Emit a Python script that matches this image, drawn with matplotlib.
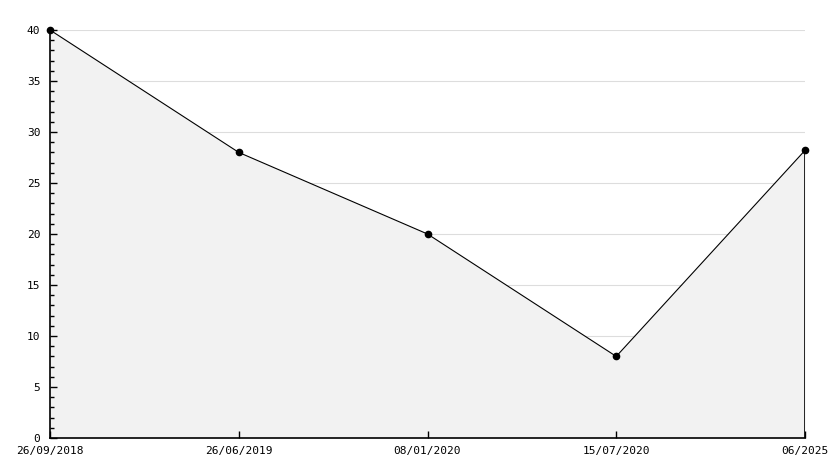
import matplotlib.pyplot as plt
from matplotlib.ticker import MultipleLocator

dates = ["26/09/2018", "26/06/2019", "08/01/2020", "15/07/2020", "06/2025"]
values = [40, 28, 20, 8, 28.2]

plt.rcParams['font.family'] = ['DejaVu Sans Mono']
plt.rcParams['font.size'] = 8

fig = plt.figure(figsize=(8.34, 4.68), dpi=100)
ax = fig.add_axes([50/834, 30/468, 755/834, 408/468])

x = list(range(len(dates)))
ax.set_xlim(0, len(dates) - 1)
ax.set_ylim(0, 40)
ax.yaxis.set_major_locator(MultipleLocator(5))
ax.yaxis.set_minor_locator(MultipleLocator(1))

# grid sits under the filled area
for yv in ax.get_yticks():
    if 0 < yv <= 40:
        ax.axhline(yv, color="#dddddd", linewidth=0.8, zorder=0)

ax.fill_between(x, values, 0, color="#f2f2f2", linewidth=0, zorder=1)
ax.vlines(x[-1], 0, values[-1], color="black", linewidth=1.2, zorder=2)
ax.plot(x, values, color="black", linewidth=0.8, marker="o", markersize=4.5, zorder=3, clip_on=False)

ax.set_xticks(x)
ax.set_xticklabels(dates)

for s in ["top", "right"]:
    ax.spines[s].set_visible(False)
for s in ["left", "bottom"]:
    ax.spines[s].set_linewidth(1.2)

ax.tick_params(axis="y", direction="in", length=5, width=1, pad=7)
ax.tick_params(axis="y", which="minor", direction="in", length=3, width=1)
ax.tick_params(axis="x", direction="in", length=5, width=1, pad=6)

plt.savefig("out.png", dpi=100)
